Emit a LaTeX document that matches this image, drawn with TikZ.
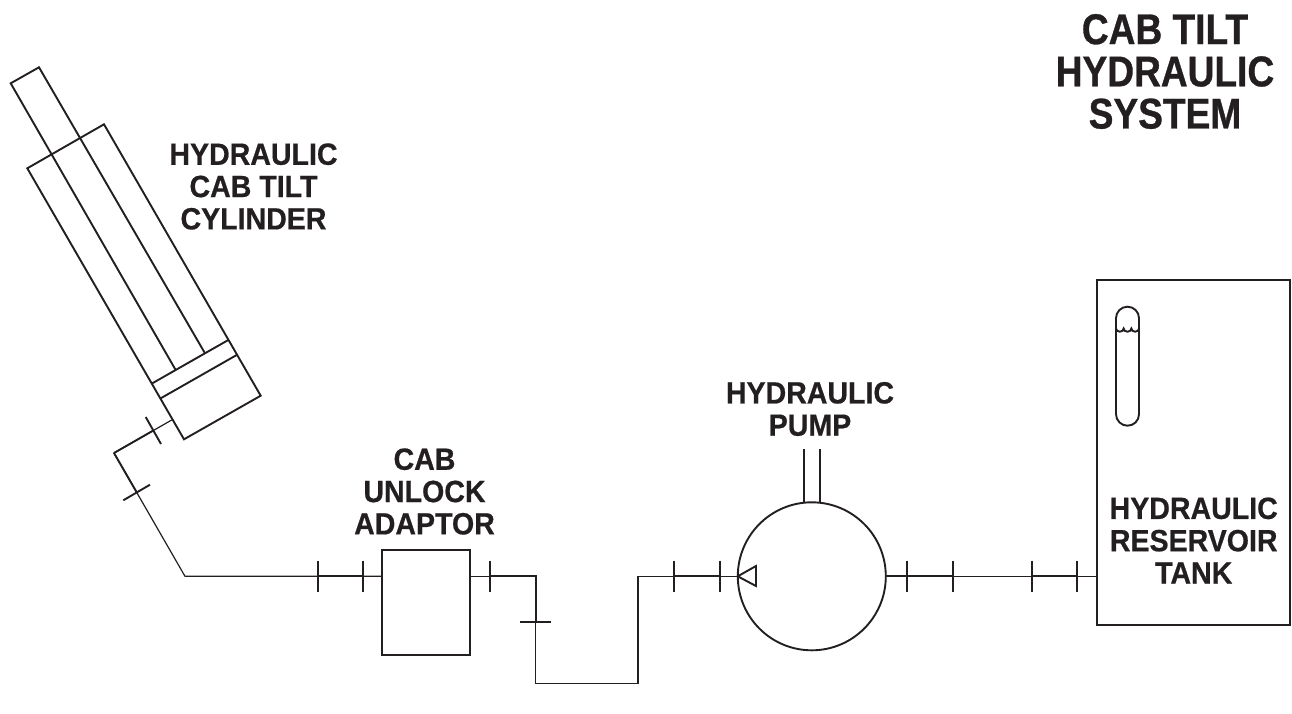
\documentclass[tikz,border=0pt]{standalone}
\usepackage{fontspec}
\setmainfont{Liberation Sans}
\newfontfamily\lblfont{Liberation Sans Bold}[FakeStretch=0.93,FakeBold=0.6]
\newfontfamily\ttlfont{Liberation Sans Bold}[FakeStretch=0.865,FakeBold=0.8]
\definecolor{ink}{HTML}{231F20}
\tikzset{
  lbl/.style={font=\lblfont\fontsize{30.7}{32.3}\selectfont,align=center,inner sep=0pt,text=ink},
  ttl/.style={font=\ttlfont\fontsize{42.9}{42.2}\selectfont,align=center,inner sep=0pt,text=ink},
  ln/.style={line width=1.9pt,line join=miter,draw=ink},
  pipe/.style={line width=1.2pt,line join=miter,draw=ink},
  tick/.style={line width=1.9pt,draw=ink},
}
\begin{document}
\begin{tikzpicture}[x=1pt,y=-1pt]
\useasboundingbox (0,0) rectangle (1292,713);
% rod
\draw[ln] (175.7,370) -- (10.7,83.3) -- (39,67.3) -- (205,353.3);
% cylinder
\draw[ln] (27.3,168.3) -- (104,124.3) -- (260.7,395.7) -- (184,439.3) -- cycle;
\draw[ln] (152.3,383.3) -- (228.3,340);
\draw[ln] (160.7,398.3) -- (236.7,355);
% boxes
\node[draw,ln,minimum width=88pt,minimum height=104.4pt,inner sep=0pt] (adaptor) at (426.3,602.5) {};
\node[draw,ln,circle,minimum size=148pt,inner sep=0pt] (pump) at (811.8,576.3) {};
\node[draw,ln,minimum width=192.7pt,minimum height=344.7pt,inner sep=0pt] (tank) at (1193.65,452.35) {};
\coordinate (cylport) at (171.7,420);
% pipes
\draw[pipe] (cylport) -- (114,453) -- (185,576.3) -- (adaptor.west |- 185,576.3);
\draw[pipe] (adaptor.east |- 0,576.3) -- (535.7,576.3) -- (535.7,683.7) -- (638,683.7) -- (638,576.3) -- (pump.west);
\draw[pipe] (pump.east) -- (tank.west |- pump.east);
% fittings
\draw[tick] (145.7,417) -- (161,444);
\draw[tick] (123.3,500.3) -- (150,484.7);
\foreach \x in {317.7,363.3,490,674,720,907,952.7,1031.7,1077}
  \draw[tick] (\x,560.7) -- (\x,592);
\draw[tick] (520,621.7) -- (551.3,621.7);
% thicker runs
\draw[ln] (114,453) -- (136.7,492.3);
\draw[ln] (114,453) -- (153.3,430.5);
\draw[ln] (317.7,576.3) -- (363.3,576.3);
\draw[ln] (490,576.3) -- (535.7,576.3) -- (535.7,621.7);
\draw[ln] (674,576.3) -- (720,576.3);
\draw[ln] (886,576.3) -- (952.7,576.3);
\draw[ln] (1031.7,576.3) -- (1077,576.3);
% pump details
\draw[ln] (737.7,576.3) -- (756,566) -- (756,586) -- cycle;
\draw[ln] (803.7,449.3) -- (803.7,503);
\draw[ln] (820.3,449.3) -- (820.3,503);
% sight glass
\draw[ln] (1116,318.2) arc[start angle=180,end angle=360,radius=11.5] -- (1139,414.2) arc[start angle=0,end angle=180,radius=11.5] -- cycle;
\draw[ln] (1116,328.5) arc[start angle=180,end angle=0,x radius=3.83,y radius=3.2] arc[start angle=180,end angle=0,x radius=3.83,y radius=3.2] arc[start angle=180,end angle=0,x radius=3.83,y radius=3.2];
% labels
\node[lbl] (l1) at (253.5,186.5) {HYDRAULIC\\CAB TILT\\CYLINDER};
\node[lbl] (l2) at (424.5,491.5) {CAB\\UNLOCK\\ADAPTOR};
\node[lbl] (l3) at (810,409) {HYDRAULIC\\PUMP};
\node[lbl] (l4) at (1193.7,540.5) {HYDRAULIC\\RESERVOIR\\TANK};
\node[ttl] (t) at (1165,71.5) {CAB TILT\\HYDRAULIC\\SYSTEM};
\end{tikzpicture}
\end{document}
